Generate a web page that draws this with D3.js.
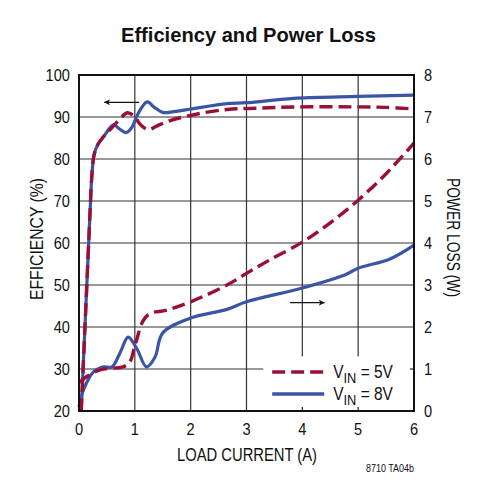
<!DOCTYPE html>
<meta charset="utf-8">
<script src="https://d3js.org/d3.v7.min.js"></script>
<style>
  body { margin: 0; background: #fff; }
  text { font-family: "Liberation Sans", Arial, sans-serif; fill: #111; }
</style>
<div id="chart"></div>
<script>
// efficiency (%) vs load current (A)
const eff5_x = [0.04, 0.1, 0.16, 0.2, 0.23, 0.27, 0.34, 0.45, 0.6, 0.75, 0.87, 1.0, 1.1, 1.24, 1.4, 1.6, 2.0, 2.65, 3.2, 3.9, 5.0, 5.5, 6.0];
const eff5_y = [20, 38, 56, 68, 76, 81, 83.5, 85.5, 87.6, 89.8, 91, 90, 88.2, 87, 87.9, 89, 90.4, 91.8, 92.1, 92.4, 92.4, 92.3, 91.9];
const eff8_x = [0.04, 0.1, 0.16, 0.2, 0.23, 0.27, 0.34, 0.45, 0.62, 0.72, 0.85, 0.95, 1.05, 1.22, 1.35, 1.5, 1.7, 2.0, 2.65, 3.0, 3.9, 5.0, 6.0];
const eff8_y = [20, 38, 56, 68, 76, 81, 83.5, 85.5, 88.2, 87.2, 86.3, 87.6, 90.6, 93.6, 92.3, 91.1, 91.3, 91.9, 93.2, 93.4, 94.5, 94.9, 95.2];
// power loss (W) vs load current (A)
const loss5_x = [0.0, 0.14, 0.38, 0.6, 0.79, 0.91, 1.0, 1.15, 1.27, 1.57, 2.0, 2.65, 3.03, 3.42, 4.0, 4.5, 5.0, 5.5, 6.0];
const loss5_y = [0.68, 0.82, 0.98, 1.02, 1.05, 1.17, 1.55, 2.15, 2.32, 2.4, 2.6, 3.0, 3.3, 3.6, 4.02, 4.48, 5.02, 5.65, 6.38];
const loss8_x = [0.0, 0.08, 0.26, 0.44, 0.59, 0.74, 0.88, 1.03, 1.21, 1.36, 1.5, 1.99, 2.65, 3.0, 4.0, 4.76, 5.0, 5.57, 6.0];
const loss8_y = [0.1, 0.5, 0.93, 1.05, 1.05, 1.4, 1.76, 1.5, 1.05, 1.28, 1.86, 2.21, 2.42, 2.6, 2.93, 3.24, 3.4, 3.62, 3.95];

const xTicks = [0, 1, 2, 3, 4, 5, 6];
const effTicks = [20, 30, 40, 50, 60, 70, 80, 90, 100];
const lossTicks = [0, 1, 2, 3, 4, 5, 6, 7, 8];
const legendLabels = ["5V", "8V"];

const red = "#9a0f35", blue = "#3a55a8";
const sx = 0.86; // squeeze text to look like condensed type

var margin = {top: 75, right: 69, bottom: 89, left: 79},
    width = 483 - margin.left - margin.right,
    height = 500 - margin.top - margin.bottom;

var svg = d3.select("#chart").append("svg")
    .attr("width", 483).attr("height", 500);

svg.append("text")
    .attr("x", 121).attr("y", 42)
    .attr("textLength", 255).attr("lengthAdjust", "spacingAndGlyphs")
    .style("font-size", "21px").style("font-weight", "bold")
    .text("Efficiency and Power Loss");

var g = svg.append("g").attr("transform", "translate(" + margin.left + "," + margin.top + ")");

var x = d3.scaleLinear().domain([0, 6]).range([0, width]);
var yE = d3.scaleLinear().domain([20, 100]).range([height, 0]);
var yP = d3.scaleLinear().domain([0, 8]).range([height, 0]);

// grid
g.selectAll(".vgrid").data(xTicks.slice(1, -1)).enter().append("line")
    .attr("x1", d => x(d)).attr("x2", d => x(d))
    .attr("y1", 0).attr("y2", height)
    .attr("stroke", "#333").attr("stroke-width", 1.2);
g.selectAll(".hgrid").data(effTicks.slice(1, -1)).enter().append("line")
    .attr("x1", 0).attr("x2", width)
    .attr("y1", d => yE(d)).attr("y2", d => yE(d))
    .attr("stroke", "#333").attr("stroke-width", 1.2);

// legend box covers grid
var lgX = x(3.3), lgY = yP(1.3);
g.append("rect")
    .attr("x", lgX).attr("y", lgY)
    .attr("width", width - lgX).attr("height", height - lgY)
    .attr("fill", "#fff");
// small inward ticks along the covered edges
g.selectAll(".btick").data([4, 5]).enter().append("line")
    .attr("x1", d => x(d)).attr("x2", d => x(d))
    .attr("y1", height).attr("y2", height - 4)
    .attr("stroke", "#222").attr("stroke-width", 1.2);
g.append("line")
    .attr("x1", width).attr("x2", width - 4)
    .attr("y1", yP(1)).attr("y2", yP(1))
    .attr("stroke", "#222").attr("stroke-width", 1.2);

// curves
function series(xs, ys) { return xs.map((v, i) => [v, ys[i]]); }
var lineE = d3.line().x(d => x(d[0])).y(d => yE(d[1])).curve(d3.curveCatmullRom.alpha(0.5));
var lineP = d3.line().x(d => x(d[0])).y(d => yP(d[1])).curve(d3.curveCatmullRom.alpha(0.5));

g.append("path").datum(series(eff8_x, eff8_y)).attr("d", lineE)
    .attr("fill", "none").attr("stroke", blue).attr("stroke-width", 3.2);
g.append("path").datum(series(loss8_x, loss8_y)).attr("d", lineP)
    .attr("fill", "none").attr("stroke", blue).attr("stroke-width", 3.2);
g.append("path").datum(series(eff5_x, eff5_y)).attr("d", lineE)
    .attr("fill", "none").attr("stroke", red).attr("stroke-width", 3.4)
    .attr("stroke-dasharray", "13,6");
g.append("path").datum(series(loss5_x, loss5_y)).attr("d", lineP)
    .attr("fill", "none").attr("stroke", red).attr("stroke-width", 3.4)
    .attr("stroke-dasharray", "13,6");

// frame
g.append("rect").attr("width", width).attr("height", height)
    .attr("fill", "none").attr("stroke", "#111").attr("stroke-width", 2);

// tick labels (squeezed horizontally)
g.selectAll(".xl").data(xTicks).enter().append("text")
    .attr("transform", d => "translate(" + x(d) + "," + (height + 24) + ") scale(" + sx + ",1)")
    .attr("text-anchor", "middle").style("font-size", "17px")
    .text(d => d);
g.selectAll(".yl").data(effTicks).enter().append("text")
    .attr("transform", d => "translate(-9," + (yE(d) + 6) + ") scale(" + sx + ",1)")
    .attr("text-anchor", "end").style("font-size", "17px")
    .text(d => d);
g.selectAll(".pl").data(lossTicks).enter().append("text")
    .attr("transform", d => "translate(" + (width + 10) + "," + (yP(d) + 6) + ") scale(" + sx + ",1)")
    .attr("text-anchor", "start").style("font-size", "17px")
    .text(d => d);

// axis titles
svg.append("text")
    .attr("x", 177).attr("y", 461)
    .attr("textLength", 140).attr("lengthAdjust", "spacingAndGlyphs")
    .style("font-size", "18px")
    .text("LOAD CURRENT (A)");
svg.append("text")
    .attr("transform", "translate(43,300) rotate(-90)")
    .attr("textLength", 122).attr("lengthAdjust", "spacingAndGlyphs")
    .style("font-size", "18px")
    .text("EFFICIENCY (%)");
svg.append("text")
    .attr("transform", "translate(447,178) rotate(90)")
    .attr("textLength", 119).attr("lengthAdjust", "spacingAndGlyphs")
    .style("font-size", "18px")
    .text("POWER LOSS (W)");

svg.append("text")
    .attr("x", 414).attr("y", 472)
    .attr("text-anchor", "end").attr("textLength", 48).attr("lengthAdjust", "spacingAndGlyphs")
    .style("font-size", "10px")
    .text("8710 TA04b");

// arrows
var defs = svg.append("defs");
defs.append("marker").attr("id", "ah")
    .attr("viewBox", "0 0 10 10").attr("refX", 10).attr("refY", 5)
    .attr("markerWidth", 13).attr("markerHeight", 6)
    .attr("markerUnits", "userSpaceOnUse").attr("orient", "auto")
    .append("path").attr("d", "M0,0L10,5L0,10L3,5Z").attr("fill", "#111");
g.append("line")
    .attr("x1", x(1.08)).attr("x2", x(0.45))
    .attr("y1", yE(93.5)).attr("y2", yE(93.5))
    .attr("stroke", "#111").attr("stroke-width", 1.2).attr("marker-end", "url(#ah)");
g.append("line")
    .attr("x1", x(3.78)).attr("x2", x(4.4))
    .attr("y1", yP(2.58)).attr("y2", yP(2.58))
    .attr("stroke", "#111").attr("stroke-width", 1.2).attr("marker-end", "url(#ah)");

// legend
var leg = g.selectAll(".leg").data(legendLabels).enter().append("g")
    .attr("transform", (d, i) => "translate(" + (x(3.46)) + "," + (yP(0.93) + i * 22) + ")");
leg.append("line")
    .attr("x1", 0).attr("x2", 52).attr("y1", 0).attr("y2", 0)
    .attr("stroke", (d, i) => i ? blue : red).attr("stroke-width", 3.4)
    .attr("stroke-dasharray", (d, i) => i ? null : "13,6");
var lt = leg.append("text")
    .attr("transform", "translate(61,6) scale(" + sx + ",1)")
    .style("font-size", "18px");
lt.append("tspan").text("V");
lt.append("tspan").attr("dy", 5).style("font-size", "15px").text("IN");
lt.append("tspan").attr("dy", -5).text(d => " = " + d);
</script>
